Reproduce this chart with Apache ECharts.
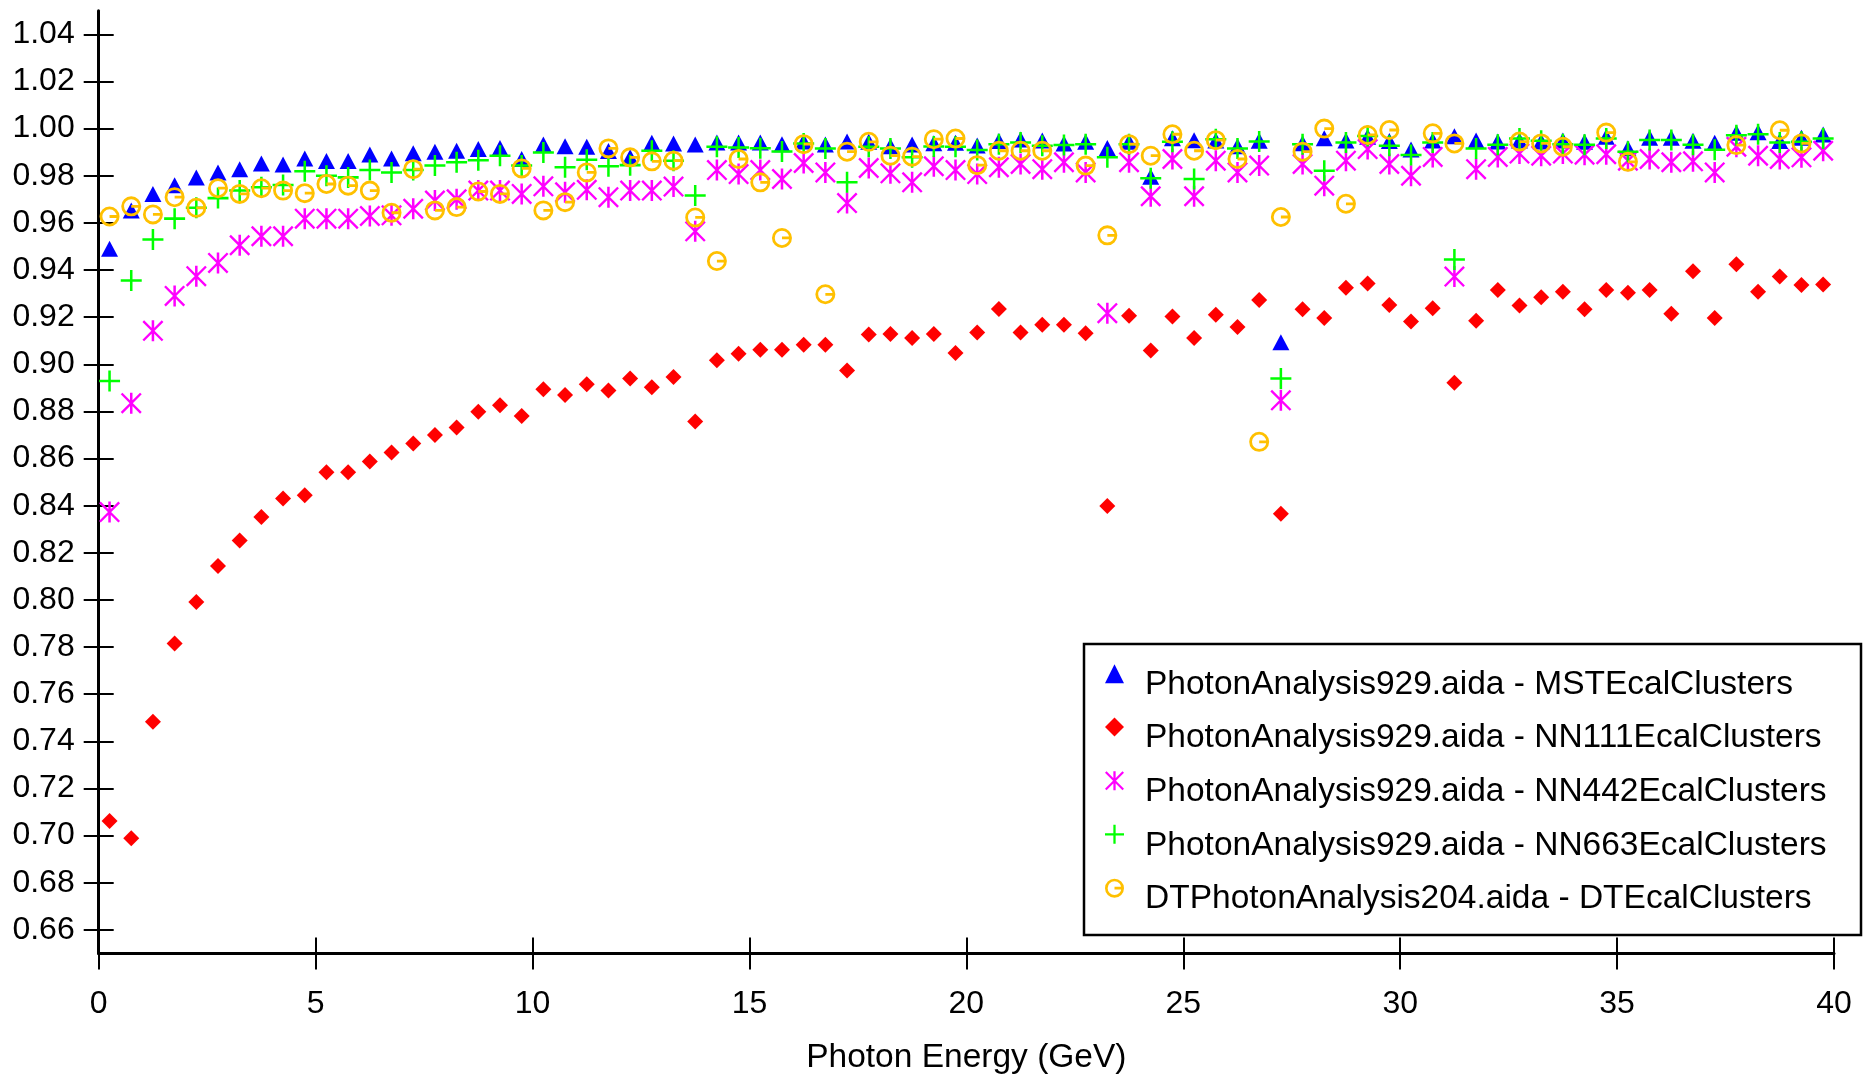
<!DOCTYPE html>
<html>
<head>
<meta charset="utf-8">
<script src="https://cdn.jsdelivr.net/npm/echarts@6/dist/echarts.min.js"></script>
<style>html,body{margin:0;padding:0;background:#fff;}#chart{width:1865px;height:1080px;}</style>
</head>
<body>
<div id="chart"></div>
<script>
const energies = [0.25,0.75,1.25,1.75,2.25,2.75,3.25,3.75,4.25,4.75,5.25,5.75,6.25,6.75,7.25,7.75,8.25,8.75,9.25,9.75,
10.25,10.75,11.25,11.75,12.25,12.75,13.25,13.75,14.25,14.75,15.25,15.75,16.25,16.75,17.25,17.75,18.25,18.75,19.25,19.75,
20.25,20.75,21.25,21.75,22.25,22.75,23.25,23.75,24.25,24.75,25.25,25.75,26.25,26.75,27.25,27.75,28.25,28.75,29.25,29.75,
30.25,30.75,31.25,31.75,32.25,32.75,33.25,33.75,34.25,34.75,35.25,35.75,36.25,36.75,37.25,37.75,38.25,38.75,39.25,39.75];

const mst = [0.949,0.9653,0.9722,0.976,0.9792,0.9814,0.9827,0.9852,0.9848,0.9873,0.9862,0.9862,0.989,0.9873,0.9895,0.9902,0.9906,0.9913,0.9918,0.9871,
0.9933,0.9925,0.9923,0.9905,0.9878,0.994,0.9937,0.9933,0.9941,0.9941,0.9941,0.9934,0.9945,0.9933,0.9945,0.9944,0.9925,0.9933,0.9938,0.994,
0.9928,0.9947,0.9954,0.9949,0.9937,0.9944,0.9918,0.9944,0.9796,0.9959,0.9951,0.9949,0.9925,0.9948,0.9093,0.9938,0.9959,0.9949,0.9965,0.9947,
0.9911,0.9949,0.9968,0.9949,0.9945,0.9949,0.9945,0.9949,0.9944,0.9965,0.9917,0.9961,0.9961,0.9948,0.994,0.9982,0.9985,0.9947,0.9961,0.9975];

const nn111 = [0.7062,0.6989,0.7483,0.7815,0.7991,0.8144,0.8252,0.8352,0.843,0.8444,0.8542,0.8542,0.8587,0.8626,0.8664,0.87,0.8732,0.8799,0.8826,0.8781,
0.8894,0.887,0.8915,0.8889,0.894,0.8903,0.8946,0.8757,0.9017,0.9045,0.9062,0.9062,0.9083,0.9083,0.8974,0.9126,0.9128,0.9111,0.9128,0.9048,
0.9135,0.9235,0.9135,0.9168,0.9168,0.9132,0.8399,0.9206,0.9058,0.9203,0.9111,0.921,0.9158,0.9273,0.8366,0.9234,0.9196,0.9325,0.9343,0.9252,
0.9182,0.9238,0.8922,0.9185,0.9315,0.9249,0.9284,0.9308,0.9234,0.9315,0.9304,0.9315,0.9214,0.9395,0.9196,0.9424,0.9308,0.9372,0.9336,0.9339];

const nn442 = [0.8373,0.8835,0.9142,0.929,0.9374,0.943,0.9505,0.9543,0.9543,0.9618,0.9618,0.9618,0.9629,0.9632,0.966,0.9695,0.97,0.9737,0.9737,0.9723,
0.9755,0.973,0.974,0.9709,0.9737,0.9737,0.9754,0.9564,0.9824,0.9807,0.9824,0.9786,0.9854,0.9814,0.9684,0.9833,0.981,0.9772,0.984,0.9824,
0.9807,0.9836,0.985,0.9828,0.9857,0.9814,0.9217,0.9857,0.9713,0.9871,0.9713,0.9864,0.9814,0.9843,0.8847,0.985,0.9758,0.9864,0.9913,0.985,
0.98,0.988,0.9372,0.9828,0.988,0.9894,0.9885,0.9894,0.9889,0.9891,0.9864,0.9871,0.9857,0.9861,0.9814,0.9923,0.9885,0.9871,0.9878,0.9906];

const nn663 = [0.8929,0.9355,0.9529,0.9618,0.9664,0.9705,0.9737,0.9751,0.9761,0.9819,0.98,0.9793,0.9824,0.9814,0.9824,0.9843,0.9857,0.9866,0.9885,0.9843,
0.9899,0.9836,0.9868,0.984,0.9845,0.9906,0.9864,0.9716,0.9923,0.992,0.9917,0.9903,0.9937,0.9916,0.9772,0.9923,0.9916,0.9878,0.9924,0.9923,
0.9909,0.9934,0.9941,0.9927,0.993,0.9934,0.9878,0.9934,0.9789,0.9944,0.9786,0.9955,0.9916,0.9945,0.894,0.9934,0.9821,0.9941,0.9969,0.9927,
0.9888,0.9941,0.9445,0.9916,0.9931,0.9958,0.9948,0.9934,0.9931,0.9958,0.9902,0.9952,0.9952,0.9931,0.991,0.9972,0.9976,0.9941,0.9944,0.9958];

const dt = [0.9627,0.967,0.9636,0.9709,0.9664,0.9747,0.9723,0.9747,0.9737,0.9726,0.9765,0.9758,0.9737,0.9643,0.9828,0.9653,0.9667,0.9733,0.9723,0.9831,
0.9653,0.9688,0.9814,0.9916,0.9878,0.9861,0.9864,0.9623,0.9438,0.9871,0.9772,0.9536,0.9934,0.9297,0.9902,0.9944,0.9885,0.9881,0.9955,0.9958,
0.9845,0.9906,0.9906,0.9906,null,0.9843,0.9547,0.9934,0.9885,0.9976,0.9906,0.9951,0.9871,0.8671,0.9625,0.9902,1.0,0.9681,0.9973,0.9994,
null,0.998,0.9937,null,null,0.9945,0.9937,0.9923,null,0.9983,0.9859,null,null,null,null,0.993,null,0.9993,0.9937,null];

const yTicks = [0.66,0.68,0.70,0.72,0.74,0.76,0.78,0.80,0.82,0.84,0.86,0.88,0.90,0.92,0.94,0.96,0.98,1.00,1.02,1.04];

const seriesNames = [
  'PhotonAnalysis929.aida - MSTEcalClusters',
  'PhotonAnalysis929.aida - NN111EcalClusters',
  'PhotonAnalysis929.aida - NN442EcalClusters',
  'PhotonAnalysis929.aida - NN663EcalClusters',
  'DTPhotonAnalysis204.aida - DTEcalClusters'
];

const FONT = 'Liberation Sans, Arial, Helvetica, sans-serif';
const PLUS = 'path://M44,0L56,0L56,100L44,100Z M0,44L100,44L100,56L0,56Z';
const STAR = 'path://M44,0L56,0L56,100L44,100Z M0,8L8,0L100,92L92,100Z M92,0L100,8L8,100L0,92Z';
const RING = 'path://M0,50A50,50 0 1,1 100,50A50,50 0 1,1 0,50Z M14,50A36,36 0 1,0 86,50A36,36 0 1,0 14,50Z M50,43L86,43L86,57L50,57Z';

function pairs(vals) {
  const out = [];
  for (let i = 0; i < energies.length; i++) {
    if (vals[i] !== null && vals[i] !== undefined) out.push([energies[i], vals[i]]);
  }
  return out;
}

const chart = echarts.init(document.getElementById('chart'), null, {renderer: 'canvas'});

const styles = [
  {symbol: 'triangle', size: [17, 16], color: '#0000ff', data: mst},
  {symbol: 'diamond', size: [16, 16], color: '#ff0000', data: nn111},
  {symbol: STAR, size: [21, 21], color: '#ff00ff', data: nn442},
  {symbol: PLUS, size: [21, 21], color: '#00ff00', data: nn663},
  {symbol: RING, size: [20, 20], color: '#ffc000', data: dt}
];

const series = styles.map((s, k) => ({
  name: seriesNames[k],
  type: 'scatter',
  xAxisIndex: 0,
  yAxisIndex: 0,
  symbol: s.symbol,
  symbolSize: s.size,
  itemStyle: {color: s.color, opacity: 1},
  emphasis: {disabled: true},
  data: pairs(s.data),
  z: 2 + k
}));

// icon centres of the legend rows (text sits ~5px lower)
const iconCenters = [676.8, 730.0, 783.8, 837.3, 891.2];
const legends = seriesNames.map((n, k) => ({
  data: [n],
  left: 1105,
  top: iconCenters[k] - 31,
  orient: 'horizontal',
  padding: 0,
  itemWidth: 19,
  itemHeight: 19,
  selectedMode: false,
  formatter: '{t|{name}}',
  textStyle: {
    fontSize: 33.5, color: '#000', fontFamily: FONT,
    rich: {t: {fontSize: 33.5, lineHeight: 40, padding: [22, 0, 0, 16], color: '#000', fontFamily: FONT}}
  }
}));

const tickStyle = {color: '#000', width: 2};
const option = {
  backgroundColor: '#fff',
  animation: false,
  grid: {left: 98.7, right: 31, top: 10.75, bottom: 120.85, containLabel: false},
  xAxis: [
    {
      type: 'value', min: 0, max: 40, interval: 5, position: 'bottom',
      axisLine: {show: true, onZero: false, lineStyle: {color: '#000', width: 3}},
      axisTick: {show: true, inside: false, length: 16, lineStyle: tickStyle},
      axisLabel: {show: true, margin: 35, fontSize: 32, lineHeight: 32, color: '#000', fontFamily: FONT},
      splitLine: {show: false},
      name: 'Photon Energy (GeV)', nameLocation: 'middle', nameGap: 88,
      nameTextStyle: {fontSize: 33.5, lineHeight: 33, color: '#000', fontFamily: FONT}
    },
    {
      type: 'value', min: 0, max: 40, interval: 5, position: 'bottom',
      axisLine: {show: false},
      axisTick: {show: true, inside: true, length: 16, lineStyle: tickStyle},
      axisLabel: {show: false},
      splitLine: {show: false}
    }
  ],
  yAxis: [
    {
      type: 'value', min: 0.65, max: 1.05, position: 'left',
      axisLine: {show: true, onZero: false, lineStyle: {color: '#000', width: 3}},
      axisTick: {show: true, inside: false, length: 15, lineStyle: tickStyle, customValues: yTicks},
      axisLabel: {show: true, margin: 24, fontSize: 32, color: '#000', fontFamily: FONT,
        customValues: yTicks, formatter: v => Number(v).toFixed(2)},
      splitLine: {show: false}
    },
    {
      type: 'value', min: 0.65, max: 1.05, position: 'left',
      axisLine: {show: false},
      axisTick: {show: true, inside: true, length: 15, lineStyle: tickStyle, customValues: yTicks},
      axisLabel: {show: false, customValues: yTicks},
      splitLine: {show: false}
    }
  ],
  legend: legends,
  graphic: [
    {type: 'rect', z: 1, silent: true,
      shape: {x: 1084, y: 644, width: 777, height: 291},
      style: {fill: 'none', stroke: '#000', lineWidth: 2.5}}
  ],
  series: series
};
chart.setOption(option);
</script>
</body>
</html>
